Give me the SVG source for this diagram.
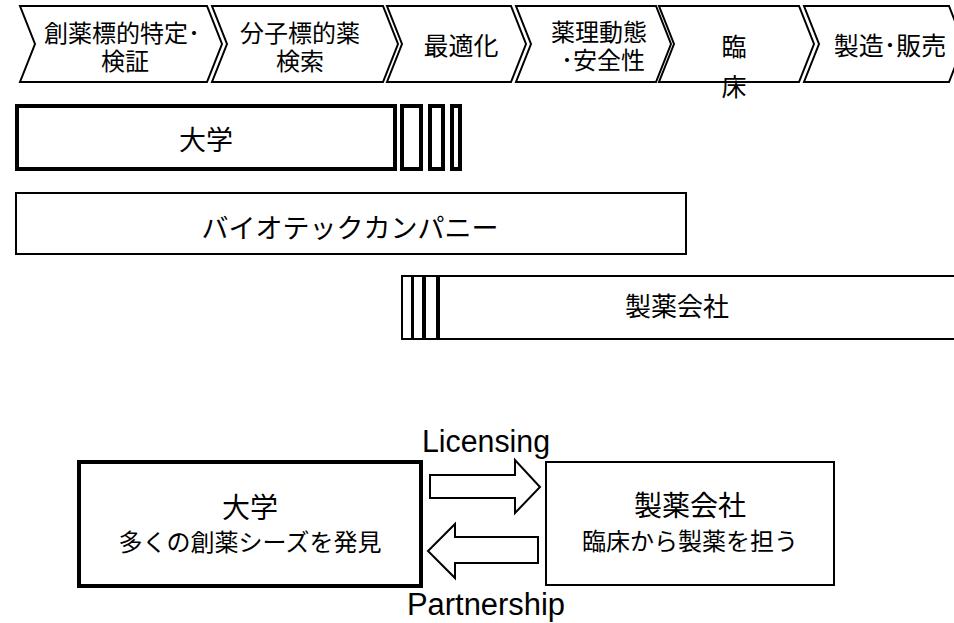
<svg xmlns="http://www.w3.org/2000/svg" width="954" height="623" viewBox="0 0 954 623">
<style>
  .chev { fill: #fff; stroke: #000; stroke-width: 2; stroke-linejoin: miter; }
  .thick { fill: #fff; stroke: #000; stroke-width: 4; }
  .thin { fill: #fff; stroke: #000; stroke-width: 2; }
  .arrow { fill: #fff; stroke: #000; stroke-width: 2; stroke-linejoin: miter; }
  .jp { font-family: "Liberation Sans", "Noto Sans CJK JP", sans-serif; fill: #000; text-anchor: middle; }
  .en { font-family: "Liberation Sans", Arial, sans-serif; fill: #000; font-size: 31px; }
</style>
<rect width="954" height="623" fill="#fff"/>

<!-- Process chevrons -->
<g id="step1">
  <path class="chev" d="M20,6 L207,6 L222,44 L207,82 L20,82 L35,44 Z"/>
  <text class="jp" x="122" y="42" font-size="24">創薬標的特定･</text>
  <text class="jp" x="125" y="70" font-size="24">検証</text>
</g>
<g id="step2">
  <path class="chev" d="M212,6 L383,6 L398,44 L383,82 L212,82 L227,44 Z"/>
  <text class="jp" x="300" y="42" font-size="24">分子標的薬</text>
  <text class="jp" x="300" y="70" font-size="24">検索</text>
</g>
<g id="step3">
  <path class="chev" d="M387,6 L511,6 L526,44 L511,82 L387,82 L402,44 Z"/>
  <text class="jp" x="461" y="55" font-size="25">最適化</text>
</g>
<g id="step4">
  <path class="chev" d="M516,6 L656,6 L671,44 L656,82 L516,82 L531,44 Z"/>
  <text class="jp" x="599" y="41" font-size="24">薬理動態</text>
  <text class="jp" x="603" y="69" font-size="24">･安全性</text>
</g>
<g id="step5">
  <path class="chev" d="M659,6 L799,6 L814,44 L799,82 L659,82 L674,44 Z"/>
  <text class="jp" x="734" y="56" font-size="25">臨</text>
  <text class="jp" x="734" y="96" font-size="25">床</text>
</g>
<g id="step6">
  <path class="chev" d="M804,6 L949,6 L964,44 L949,82 L804,82 L819,44 Z"/>
  <text class="jp" x="890" y="55" font-size="25">製造･販売</text>
</g>

<!-- Role bars -->
<g id="bar-university">
  <rect class="thick" x="17" y="106" width="378" height="63"/>
  <rect class="thick" x="402" y="106" width="19" height="63"/>
  <rect class="thick" x="430" y="106" width="13" height="63"/>
  <rect class="thick" x="452" y="106" width="8" height="63"/>
  <text class="jp" x="206" y="150" font-size="27">大学</text>
</g>
<g id="bar-biotech">
  <rect class="thin" x="16" y="193" width="670" height="61"/>
  <text class="jp" x="350" y="238" font-size="27">バイオテックカンパニー</text>
</g>
<g id="bar-pharma">
  <rect class="thin" x="402" y="276" width="10" height="63"/>
  <rect class="thin" x="413" y="276" width="10" height="63"/>
  <rect class="thin" x="425" y="276" width="12" height="63"/>
  <rect class="thin" x="439" y="276" width="530" height="63"/>
  <text class="jp" x="677" y="316" font-size="26">製薬会社</text>
</g>

<!-- Relationship boxes -->
<g id="node-university">
  <rect class="thick" x="79" y="462" width="342" height="124"/>
  <text class="jp" x="250" y="518" font-size="28">大学</text>
  <text class="jp" x="250" y="551" font-size="24">多くの創薬シーズを発見</text>
</g>
<g id="node-pharma">
  <rect class="thin" x="546" y="462" width="288" height="123"/>
  <text class="jp" x="690" y="516" font-size="28">製薬会社</text>
  <text class="jp" x="690" y="550" font-size="24">臨床から製薬を担う</text>
</g>

<!-- Connectors -->
<g id="connectors">
  <path class="arrow" d="M430,475 L515,475 L515,460 L540,487 L515,513 L515,498 L430,498 Z"/>
  <path class="arrow" d="M538,537 L455,537 L455,524 L428,551 L455,578 L455,563 L538,563 Z"/>
  <text class="en" x="422" y="452" textLength="128" lengthAdjust="spacingAndGlyphs">Licensing</text>
  <text class="en" x="407" y="615" textLength="158" lengthAdjust="spacingAndGlyphs">Partnership</text>
</g>
</svg>
